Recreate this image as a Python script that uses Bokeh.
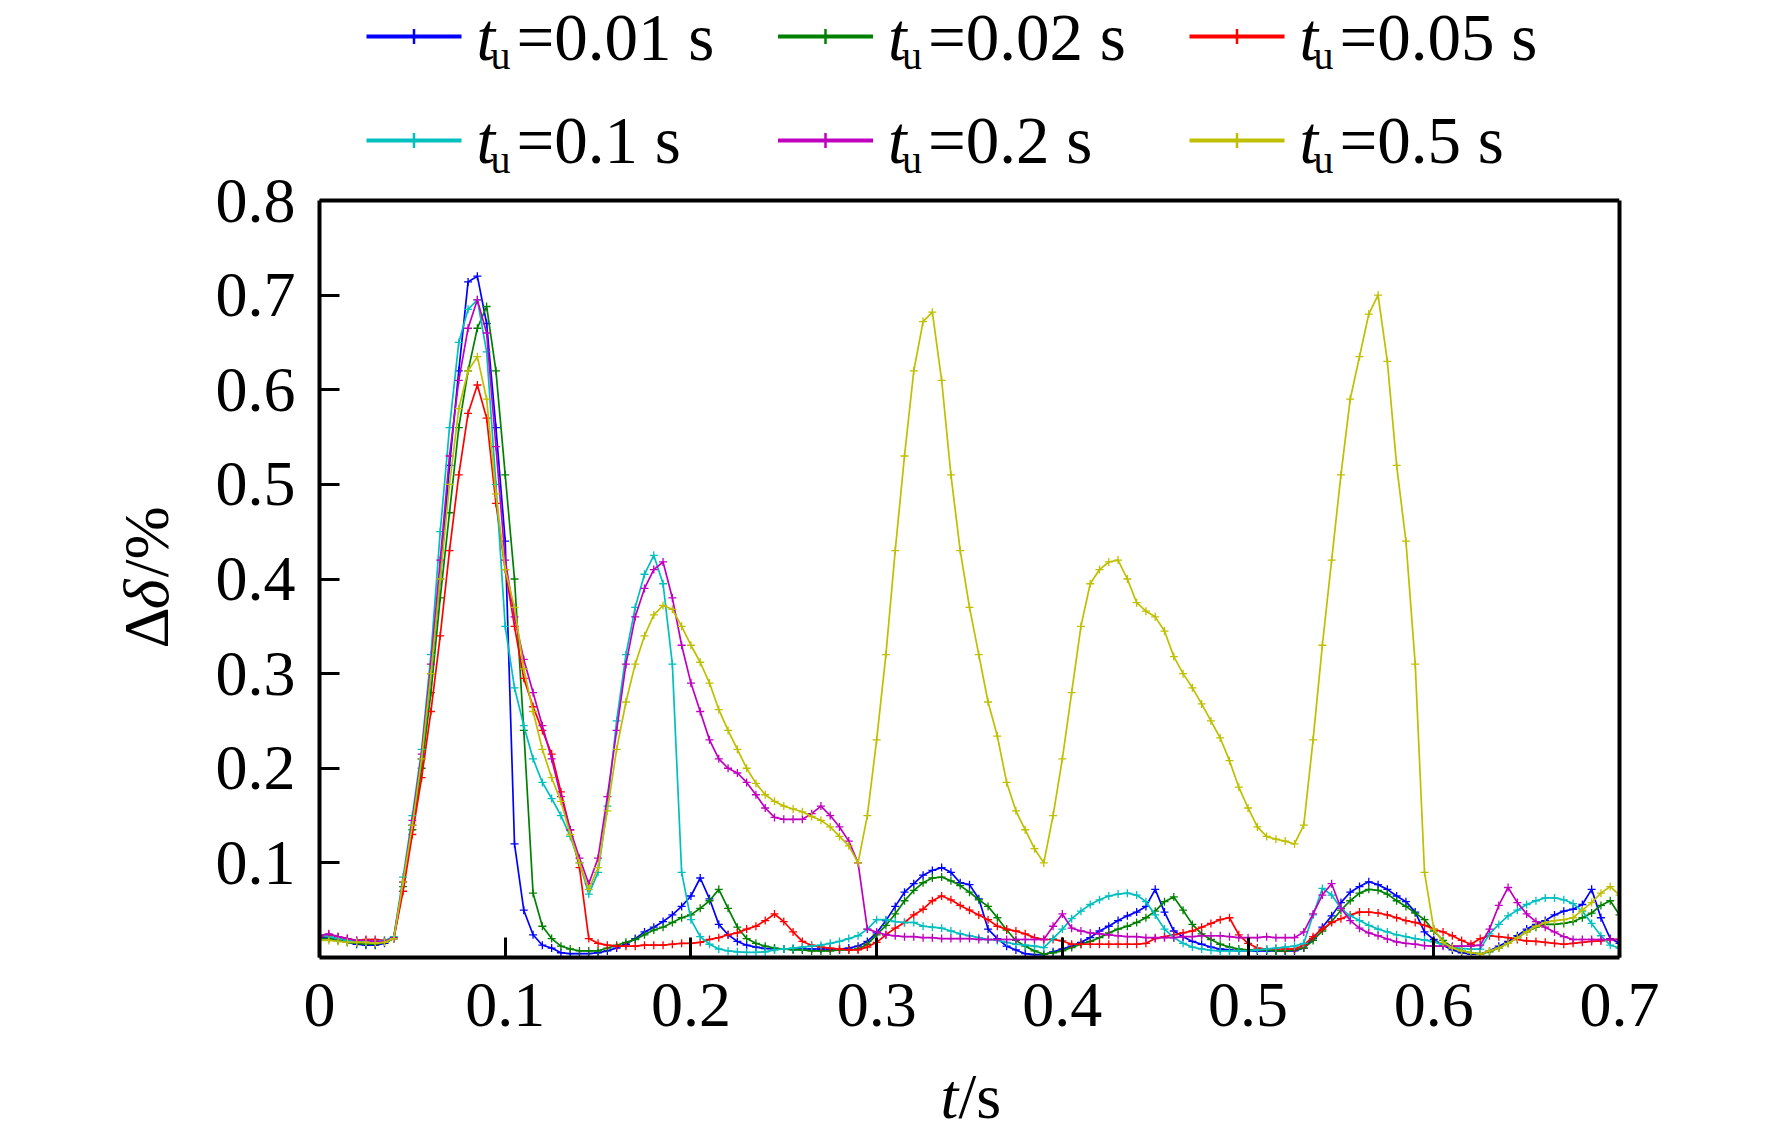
import math
from bokeh.plotting import figure
from bokeh.layouts import column, row
from bokeh.models import Range1d, FixedTicker, LinearAxis, Span
from bokeh.core.properties import value
from bokeh.embed import file_html
from bokeh.resources import INLINE

# ---------------- data ----------------
time_s = [round(i * 0.005, 3) for i in range(141)]

tu_values = ["0.01", "0.02", "0.05", "0.1", "0.2", "0.5"]
colors = ["#0000FF", "#008000", "#FF0000", "#00BFBF", "#BF00BF", "#BFBF00"]

d_tu001 = [
    0.022, 0.021, 0.019, 0.016, 0.014, 0.013, 0.013, 0.015, 0.020, 0.080,
    0.140, 0.210, 0.300, 0.400, 0.520, 0.620, 0.714, 0.720, 0.670, 0.560,
    0.440, 0.120, 0.050, 0.024, 0.013, 0.010, 0.005, 0.004, 0.004, 0.004,
    0.005, 0.007, 0.010, 0.014, 0.020, 0.027, 0.032, 0.038, 0.045, 0.054,
    0.065, 0.084, 0.062, 0.035, 0.024, 0.017, 0.013, 0.011, 0.0095, 0.009,
    0.009, 0.009, 0.009, 0.009, 0.009, 0.009, 0.009, 0.010, 0.012, 0.017,
    0.026, 0.039, 0.054, 0.069, 0.078, 0.087, 0.092, 0.095, 0.090, 0.079,
    0.077, 0.062, 0.030, 0.020, 0.012, 0.008, 0.004, 0.003, 0.003, 0.006,
    0.009, 0.012, 0.016, 0.021, 0.028, 0.033, 0.039, 0.044, 0.048, 0.054,
    0.072, 0.048, 0.028, 0.022, 0.017, 0.014, 0.011, 0.009, 0.008, 0.007,
    0.007, 0.007, 0.007, 0.007, 0.007, 0.007, 0.010, 0.020, 0.032, 0.044,
    0.058, 0.069, 0.075, 0.080, 0.077, 0.072, 0.065, 0.059, 0.048, 0.027,
    0.019, 0.013, 0.008, 0.005, 0.0035, 0.0035, 0.007, 0.012, 0.017, 0.023,
    0.030, 0.035, 0.039, 0.045, 0.049, 0.051, 0.056, 0.072, 0.042, 0.020,
    0.015,
]

d_tu002 = [
    0.020, 0.020, 0.018, 0.016, 0.015, 0.014, 0.014, 0.016, 0.020, 0.075,
    0.135, 0.200, 0.280, 0.380, 0.470, 0.560, 0.620, 0.665, 0.688, 0.620,
    0.510, 0.400, 0.240, 0.068, 0.033, 0.020, 0.012, 0.009, 0.007, 0.007,
    0.007, 0.010, 0.013, 0.016, 0.019, 0.024, 0.029, 0.032, 0.037, 0.042,
    0.045, 0.052, 0.060, 0.072, 0.052, 0.032, 0.020, 0.015, 0.012, 0.010,
    0.009, 0.008, 0.008, 0.007, 0.007, 0.007, 0.008, 0.008, 0.009, 0.014,
    0.024, 0.034, 0.046, 0.060, 0.071, 0.079, 0.084, 0.085, 0.081, 0.076,
    0.069, 0.061, 0.054, 0.042, 0.029, 0.018, 0.012, 0.007, 0.0035, 0.005,
    0.007, 0.0105, 0.014, 0.017, 0.021, 0.026, 0.030, 0.033, 0.037, 0.042,
    0.049, 0.059, 0.064, 0.050, 0.035, 0.025, 0.019, 0.014, 0.011, 0.009,
    0.008, 0.008, 0.008, 0.007, 0.007, 0.008, 0.010, 0.018, 0.028, 0.038,
    0.050, 0.060, 0.068, 0.072, 0.071, 0.067, 0.060, 0.054, 0.047, 0.040,
    0.028, 0.018, 0.011, 0.007, 0.005, 0.004, 0.006, 0.010, 0.015, 0.021,
    0.027, 0.032, 0.035, 0.035, 0.036, 0.038, 0.042, 0.047, 0.055, 0.060,
    0.045,
]

d_tu005 = [
    0.022, 0.024, 0.022, 0.020, 0.018, 0.019, 0.019, 0.018, 0.020, 0.070,
    0.130, 0.190, 0.260, 0.340, 0.430, 0.510, 0.575, 0.605, 0.570, 0.480,
    0.410, 0.350, 0.295, 0.265, 0.240, 0.215, 0.175, 0.135, 0.095, 0.020,
    0.015, 0.013, 0.012, 0.012, 0.012, 0.013, 0.013, 0.013, 0.014, 0.015,
    0.015, 0.016, 0.019, 0.021, 0.024, 0.026, 0.030, 0.033, 0.039, 0.046,
    0.038, 0.027, 0.017, 0.013, 0.011, 0.010, 0.009, 0.008, 0.008, 0.011,
    0.016, 0.024, 0.031, 0.037, 0.045, 0.051, 0.060, 0.065, 0.061, 0.055,
    0.050, 0.045, 0.040, 0.033, 0.030, 0.028, 0.025, 0.021, 0.019, 0.019,
    0.0175, 0.014, 0.014, 0.014, 0.014, 0.014, 0.014, 0.014, 0.014, 0.015,
    0.020, 0.022, 0.024, 0.026, 0.028, 0.032, 0.036, 0.040, 0.042, 0.024,
    0.015, 0.010, 0.009, 0.009, 0.009, 0.009, 0.013, 0.022, 0.030, 0.037,
    0.041, 0.045, 0.048, 0.048, 0.047, 0.045, 0.042, 0.039, 0.037, 0.034,
    0.030, 0.027, 0.023, 0.018, 0.014, 0.020, 0.023, 0.022, 0.021, 0.019,
    0.0175, 0.017, 0.016, 0.015, 0.014, 0.015, 0.016, 0.017, 0.0175, 0.019,
    0.019,
]

d_tu01 = [
    0.024, 0.022, 0.020, 0.018, 0.017, 0.016, 0.017, 0.018, 0.022, 0.085,
    0.150, 0.220, 0.320, 0.450, 0.560, 0.650, 0.685, 0.695, 0.640, 0.500,
    0.350, 0.285, 0.245, 0.210, 0.185, 0.168, 0.150, 0.128, 0.100, 0.067,
    0.090, 0.160, 0.250, 0.320, 0.370, 0.405, 0.425, 0.395, 0.310, 0.090,
    0.040, 0.022, 0.014, 0.009, 0.007, 0.006, 0.0055, 0.0055, 0.006, 0.008,
    0.009, 0.010, 0.011, 0.012, 0.013, 0.015, 0.017, 0.020, 0.023, 0.030,
    0.040, 0.040, 0.038, 0.037, 0.037, 0.033, 0.032, 0.031, 0.028, 0.025,
    0.023, 0.021, 0.019, 0.018, 0.016, 0.014, 0.013, 0.012, 0.0105, 0.020,
    0.030, 0.041, 0.049, 0.056, 0.061, 0.065, 0.067, 0.068, 0.066, 0.059,
    0.045, 0.030, 0.021, 0.015, 0.011, 0.009, 0.0075, 0.007, 0.007, 0.007,
    0.007, 0.008, 0.009, 0.010, 0.011, 0.012, 0.015, 0.045, 0.073, 0.066,
    0.052, 0.044, 0.039, 0.034, 0.030, 0.027, 0.024, 0.022, 0.020, 0.0185,
    0.0165, 0.0135, 0.011, 0.0095, 0.0088, 0.0088, 0.025, 0.035, 0.044, 0.050,
    0.056, 0.060, 0.063, 0.063, 0.061, 0.057, 0.049, 0.036, 0.023, 0.013,
    0.010,
]

d_tu02 = [
    0.023, 0.025, 0.022, 0.020, 0.018, 0.018, 0.017, 0.017, 0.021, 0.080,
    0.145, 0.215, 0.310, 0.420, 0.530, 0.610, 0.665, 0.695, 0.660, 0.540,
    0.420, 0.360, 0.315, 0.280, 0.245, 0.210, 0.170, 0.135, 0.105, 0.078,
    0.105, 0.170, 0.240, 0.310, 0.360, 0.390, 0.410, 0.418, 0.380, 0.330,
    0.290, 0.260, 0.230, 0.210, 0.200, 0.195, 0.185, 0.172, 0.158, 0.148,
    0.146, 0.146, 0.146, 0.152, 0.160, 0.150, 0.138, 0.123, 0.100, 0.030,
    0.027, 0.024, 0.023, 0.022, 0.022, 0.021, 0.021, 0.020, 0.020, 0.020,
    0.020, 0.019, 0.019, 0.019, 0.019, 0.019, 0.019, 0.019, 0.019, 0.033,
    0.046, 0.031, 0.028, 0.026, 0.025, 0.024, 0.023, 0.022, 0.022, 0.021,
    0.021, 0.021, 0.021, 0.022, 0.022, 0.023, 0.023, 0.023, 0.022, 0.021,
    0.021, 0.021, 0.022, 0.021, 0.021, 0.021, 0.027, 0.046, 0.066, 0.078,
    0.052, 0.039, 0.031, 0.026, 0.023, 0.0195, 0.0165, 0.015, 0.014, 0.0125,
    0.012, 0.012, 0.012, 0.012, 0.012, 0.013, 0.030, 0.055, 0.074, 0.058,
    0.046, 0.038, 0.032, 0.027, 0.022, 0.019, 0.019, 0.019, 0.019, 0.019,
    0.019,
]

d_tu05 = [
    0.018, 0.018, 0.017, 0.016, 0.016, 0.016, 0.015, 0.016, 0.020, 0.080,
    0.140, 0.210, 0.300, 0.400, 0.500, 0.580, 0.620, 0.635, 0.590, 0.490,
    0.410, 0.370, 0.305, 0.260, 0.220, 0.190, 0.165, 0.130, 0.100, 0.072,
    0.095, 0.155, 0.220, 0.270, 0.310, 0.340, 0.362, 0.372, 0.368, 0.350,
    0.330, 0.312, 0.290, 0.262, 0.240, 0.220, 0.200, 0.184, 0.172, 0.165,
    0.160, 0.157, 0.154, 0.149, 0.145, 0.138, 0.128, 0.118, 0.100, 0.150,
    0.230, 0.320, 0.430, 0.530, 0.620, 0.672, 0.682, 0.610, 0.510, 0.430,
    0.370, 0.320, 0.270, 0.234, 0.185, 0.155, 0.135, 0.115, 0.100, 0.150,
    0.210, 0.280, 0.350, 0.395, 0.410, 0.418, 0.420, 0.400, 0.375, 0.366,
    0.360, 0.345, 0.318, 0.300, 0.285, 0.268, 0.250, 0.232, 0.208, 0.180,
    0.158, 0.138, 0.128, 0.125, 0.123, 0.120, 0.140, 0.230, 0.330, 0.420,
    0.510, 0.590, 0.635, 0.680, 0.700, 0.630, 0.520, 0.440, 0.310, 0.090,
    0.030, 0.016, 0.010, 0.007, 0.005, 0.0035, 0.007, 0.010, 0.015, 0.021,
    0.027, 0.033, 0.037, 0.039, 0.040, 0.042, 0.050, 0.058, 0.068, 0.075,
    0.066,
]

series = [d_tu001, d_tu002, d_tu005, d_tu01, d_tu02, d_tu05]

x_ticks = [0, 0.1, 0.2, 0.3, 0.4, 0.5, 0.6, 0.7]
x_tick_labels = ["0", "0.1", "0.2", "0.3", "0.4", "0.5", "0.6", "0.7"]
y_ticks = [0.1, 0.2, 0.3, 0.4, 0.5, 0.6, 0.7, 0.8]
y_tick_labels = ["0.1", "0.2", "0.3", "0.4", "0.5", "0.6", "0.7", "0.8"]

x_title = ["t", "/s"]
y_title = ["Δ", "δ", "/%"]

# ---------------- layout (page pixels) ----------------
FONT = "Liberation Serif"
YLAB_W = 200            # strip holding the vertical axis title
MAIN_W = 1500
MAIN_H = 1058
XLAB_H = 80             # strip holding the horizontal axis title
FRAME_L, FRAME_R = 319, 1619   # page x of the data box
FRAME_T, FRAME_B = 200, 957    # page y of y=0.8 and y=0
Y_MAX = 0.8 * FRAME_B / (FRAME_B - FRAME_T)   # plot frame reaches the page top (legend inside)
BASE_SHIFT = 0.34       # rendered baseline sits this many em below the anchor

XPX = (FRAME_R - FRAME_L) / 0.7
YPX = (FRAME_B - FRAME_T) / 0.8


def dx(px):
    return (px - FRAME_L) / XPX


def dy(py):
    return (FRAME_B - py) / YPX


def strip(w, h, xr, yr, bl=0, br=0, bt=0, bb=0):
    f = figure(width=w, height=h, x_range=Range1d(*xr), y_range=Range1d(*yr),
               output_backend="svg", toolbar_location=None,
               x_axis_location=None, y_axis_location=None,
               min_border=0, min_border_left=bl, min_border_right=br,
               min_border_top=bt, min_border_bottom=bb)
    f.grid.visible = False
    f.outline_line_color = None
    f.background_fill_color = "white"
    f.border_fill_color = "white"
    return f


# ---------------- main plot ----------------
p = figure(width=MAIN_W, height=MAIN_H, x_range=Range1d(0, 0.7), y_range=Range1d(0, Y_MAX),
           output_backend="svg", toolbar_location=None,
           min_border_left=FRAME_L - YLAB_W, min_border_right=YLAB_W + MAIN_W - FRAME_R,
           min_border_top=0, min_border_bottom=MAIN_H - FRAME_B)
p.grid.visible = False
p.outline_line_color = None
p.background_fill_color = "white"
p.border_fill_color = "white"

for ax in (p.xaxis[0], p.yaxis[0]):
    ax.axis_line_width = 4
    ax.axis_line_color = "black"
    ax.major_tick_in = 20
    ax.major_tick_out = 0
    ax.major_tick_line_width = 3
    ax.major_tick_line_color = "black"
    ax.minor_tick_line_color = None
    ax.major_label_text_font = FONT
    ax.major_label_text_font_size = "64px"
    ax.major_label_text_color = "black"

xa = p.xaxis[0]
xa.ticker = FixedTicker(ticks=x_ticks)
xa.major_label_overrides = dict(zip(x_ticks, x_tick_labels))
xa.major_label_standoff = 26

ya = p.yaxis[0]
ya.ticker = FixedTicker(ticks=y_ticks)
ya.major_label_overrides = dict(zip(y_ticks, y_tick_labels))
ya.bounds = (0, 0.8)
ya.major_label_standoff = 24

ra = LinearAxis(ticker=FixedTicker(ticks=[]), bounds=(0, 0.8),
                axis_line_width=4, axis_line_color="black",
                major_tick_line_color=None, minor_tick_line_color=None,
                major_label_text_font_size="0px")
p.add_layout(ra, "right")
p.add_layout(Span(location=0.8, dimension="width", line_color="black", line_width=4))

for vals, c in zip(series, colors):
    p.line(time_s, vals, line_color=c, line_width=1.7)
    p.scatter(time_s, vals, marker="cross", size=8, line_color=c, line_width=1.3)

# ---------------- legend (two rows of three, above the box) ----------------
LEG_FS, SUB_FS = 67, 40
LEG_X0 = [366, 777.5, 1189]
LEG_LINE_Y = [36, 140]
LEG_BASE_Y = [59, 162.5]
sx0, sx1, sy, mx, tx, ux, ex, by, uby, etxt = [], [], [], [], [], [], [], [], [], []
for k, lab in enumerate(tu_values):
    col, rw = k % 3, k // 3
    X = LEG_X0[col]
    sx0.append(dx(X)); sx1.append(dx(X + 95)); sy.append(dy(LEG_LINE_Y[rw]))
    mx.append(dx(X + 47.5))
    tx.append(dx(X + 110)); ux.append(dx(X + 124)); ex.append(dx(X + 150))
    by.append(dy(LEG_BASE_Y[rw] - BASE_SHIFT * LEG_FS))
    uby.append(dy(LEG_BASE_Y[rw] + 10 - BASE_SHIFT * SUB_FS))
    etxt.append("=" + lab + " s")

p.segment(x0=sx0, y0=sy, x1=sx1, y1=sy, line_color=colors, line_width=4)
p.scatter(x=mx, y=sy, marker="cross", size=15, line_color=colors, line_width=2.5)
p.text(x=tx, y=by, text=["t"] * 6, text_font=value(FONT), text_font_size=f"{LEG_FS}px",
       text_font_style="italic", text_baseline="alphabetic", text_align="left", text_color="black")
p.text(x=ux, y=uby, text=["u"] * 6, text_font=value(FONT), text_font_size=f"{SUB_FS}px",
       text_baseline="alphabetic", text_align="left", text_color="black")
p.text(x=ex, y=by, text=etxt, text_font=value(FONT), text_font_size=f"{LEG_FS}px",
       text_baseline="alphabetic", text_align="left", text_color="black")

# ---------------- vertical axis title strip (frame matches the main frame rows) ----------------
yl = strip(YLAB_W, MAIN_H, (0, YLAB_W), (0, FRAME_B), bb=MAIN_H - FRAME_B)
yl_pos = [648, 608.8, 576.8]      # page y where each piece starts (text runs upward)
yl_style = ["normal", "italic", "normal"]
for txt, py, st in zip(y_title, yl_pos, yl_style):
    yl.text(x=[168 - BASE_SHIFT * 64], y=[FRAME_B - py], text=[txt], angle=math.pi / 2,
            text_font=value(FONT), text_font_size="64px", text_font_style=st,
            text_baseline="alphabetic", text_align="left", text_color="black")

# ---------------- horizontal axis title strip (page x coordinates) ----------------
xl = strip(YLAB_W + MAIN_W, XLAB_H, (FRAME_L, FRAME_R), (MAIN_H + XLAB_H, MAIN_H),
           bl=FRAME_L, br=YLAB_W + MAIN_W - FRAME_R)
xl_y = 1118 - BASE_SHIFT * 64
xl.text(x=[940], y=[xl_y], text=[x_title[0]], text_font=value(FONT), text_font_size="64px",
        text_font_style="italic", text_baseline="alphabetic", text_align="left", text_color="black")
xl.text(x=[958], y=[xl_y], text=[x_title[1]], text_font=value(FONT), text_font_size="64px",
        text_baseline="alphabetic", text_align="left", text_color="black")

layout = column(row(yl, p), xl)
open("out.html", "w").write(file_html(layout, INLINE))
